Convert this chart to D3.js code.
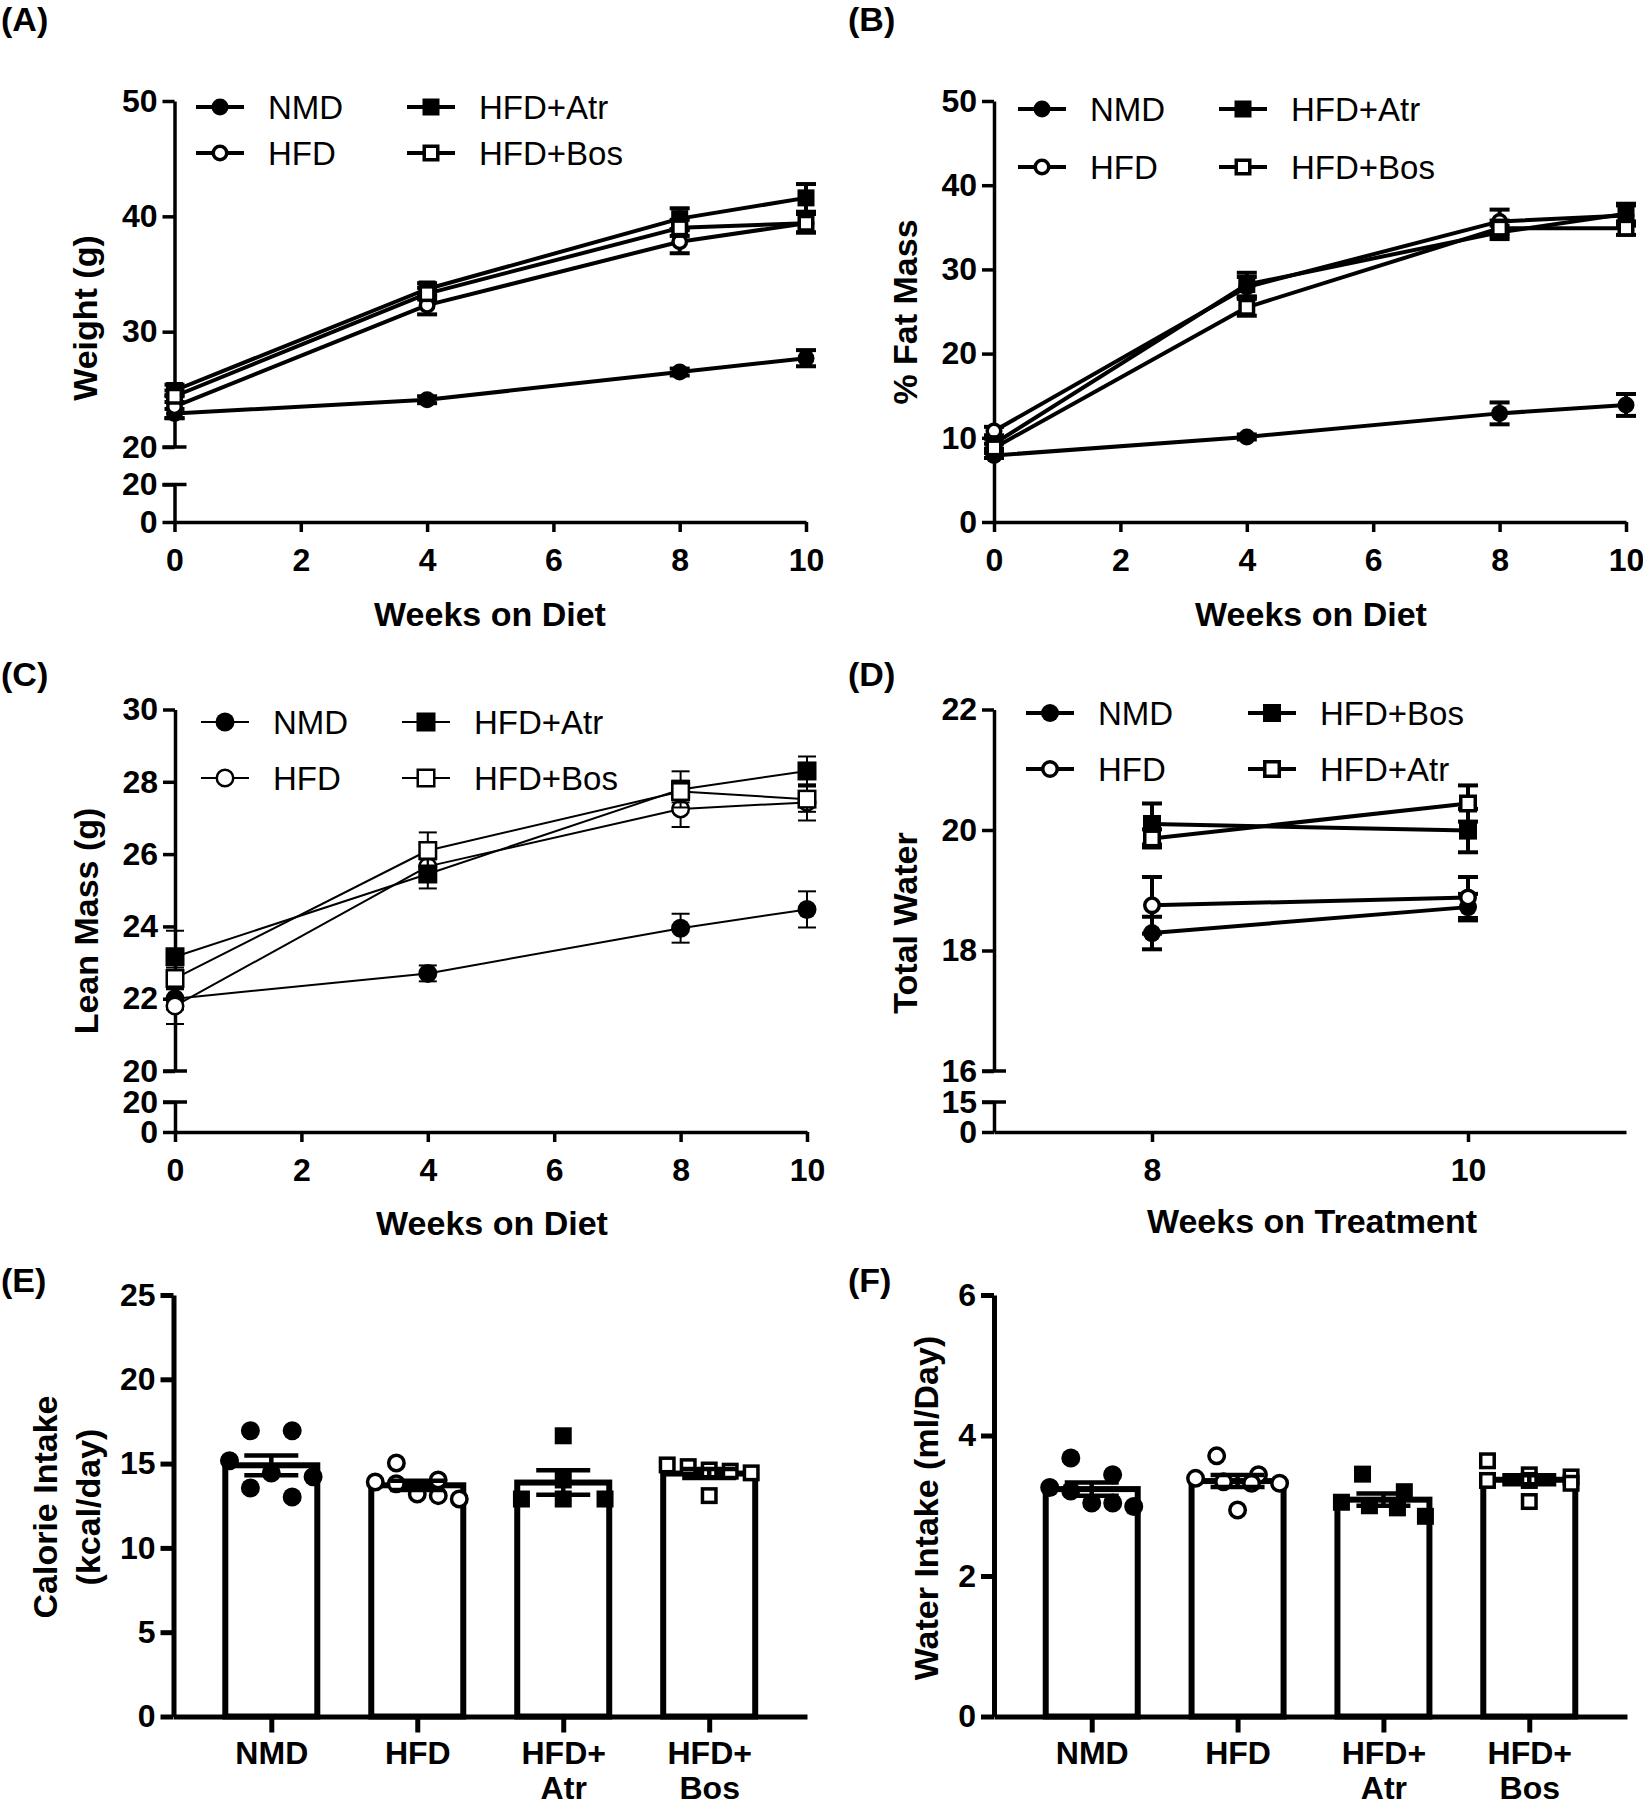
<!DOCTYPE html>
<html><head><meta charset="utf-8">
<script src="https://cdn.jsdelivr.net/npm/d3@7"></script>
<style>body{margin:0;background:#fff}</style>
</head><body><svg id="c" width="1643" height="1800" xmlns="http://www.w3.org/2000/svg"></svg>
<script>
const FONT = '"Liberation Sans", Arial, Helvetica, sans-serif';

// ---------------- data ----------------
const groups = ["NMD", "HFD", "HFD+Atr", "HFD+Bos"];
const weeksDiet = [0, 4, 8, 10];
const weeksTreatment = [8, 10];

// (A) Weight (g), mean and SEM
const weightNMD = [22.9, 24.1, 26.5, 27.7];
const weightNMDSem = [0.4, 0.3, 0.3, 0.7];
const weightHFD = [23.5, 32.3, 37.8, 39.4];
const weightHFDSem = [1.0, 0.8, 1.0, 0.8];
const weightAtr = [24.9, 33.7, 39.8, 41.6];
const weightAtrSem = [0.5, 0.5, 0.9, 1.2];
const weightBos = [24.4, 33.3, 39.0, 39.4];
const weightBosSem = [0.5, 0.5, 0.7, 0.8];

// (B) % Fat Mass
const fatNMD = [7.9, 10.1, 12.9, 13.9];
const fatNMDSem = [0.3, 0.3, 1.3, 1.3];
const fatHFD = [10.8, 27.9, 35.7, 36.4];
const fatHFDSem = [0.5, 1.2, 1.4, 1.2];
const fatAtr = [9.3, 28.2, 34.4, 36.6];
const fatAtrSem = [0.6, 1.4, 0.8, 1.2];
const fatBos = [8.8, 25.5, 34.9, 34.9];
const fatBosSem = [0.5, 1.0, 0.9, 0.8];

// (C) Lean Mass (g)
const leanNMD = [22.0, 22.7, 23.95, 24.47];
const leanNMDSem = [0.3, 0.22, 0.4, 0.5];
const leanHFD = [21.8, 25.66, 27.25, 27.43];
const leanHFDSem = [0.5, 0.3, 0.5, 0.5];
const leanAtr = [23.16, 25.45, 27.79, 28.3];
const leanAtrSem = [0.72, 0.4, 0.5, 0.4];
const leanBos = [22.56, 26.1, 27.73, 27.52];
const leanBosSem = [0.3, 0.5, 0.3, 0.35];

// (D) Total Water
const totalWaterNMD = [18.29, 18.72];
const totalWaterNMDSem = [0.27, 0.22];
const totalWaterHFD = [18.75, 18.88];
const totalWaterHFDSem = [0.47, 0.34];
const totalWaterBos = [20.1, 19.99];
const totalWaterBosSem = [0.34, 0.36];
const totalWaterAtr = [19.86, 20.44];
const totalWaterAtrSem = [0.15, 0.3];

// (E) Calorie intake (kcal/day), individual animals
const calorieNMD = [16.95, 16.95, 15.17, 14.44, 14.22, 13.55, 13.02];
const calorieHFD = [15.04, 14.03, 13.91, 13.81, 13.2, 13.1, 12.9];
const calorieAtr = [16.65, 14.03, 12.9, 12.9, 12.9];
const calorieBos = [14.92, 14.82, 14.62, 14.55, 14.45, 13.1];

// (F) Water intake (ml/Day), individual animals
const waterIntakeNMD = [3.68, 3.44, 3.26, 3.21, 3.04, 3.04, 2.99];
const waterIntakeHFD = [3.71, 3.44, 3.39, 3.34, 3.32, 3.32, 2.94];
const waterIntakeAtr = [3.45, 3.2, 3.05, 3.0, 2.97, 2.85];
const waterIntakeBos = [3.64, 3.44, 3.41, 3.36, 3.36, 3.32, 3.06];

// tick labels
const ticksDiet = [0, 2, 4, 6, 8, 10];
const ticksTreatment = [8, 10];
const ticksAUpper = [20, 30, 40, 50];
const ticksALower = [0, 20];
const ticksB = [0, 10, 20, 30, 40, 50];
const ticksCUpper = [20, 22, 24, 26, 28, 30];
const ticksCLower = [0, 20];
const ticksDUpper = [16, 18, 20, 22];
const ticksDLower = [0, 15];
const ticksE = [0, 5, 10, 15, 20, 25];
const ticksF = [0, 2, 4, 6];
const barLabels = [["NMD"], ["HFD"], ["HFD+", "Atr"], ["HFD+", "Bos"]];

// ---------------- drawing ----------------
const svg = d3.select("#c");
const fmt = d3.format("d");
const TICK_FS = 32, LEGEND_FS = 33, TITLE_FS = 34, LABEL_FS = 34;

function styleAxis(sel, w, fs) {
  sel.attr("font-family", FONT).attr("font-size", fs).attr("font-weight", "bold");
  sel.select(".domain").attr("stroke", "#000").attr("stroke-width", w);
  sel.selectAll(".tick line").attr("stroke", "#000").attr("stroke-width", w);
  sel.selectAll(".tick text").attr("fill", "#000");
}

function drawMarker(g, type, cx, cy, size, sw) {
  const filled = type.startsWith("filled");
  const circle = type.endsWith("Circle");
  const r = filled ? size / 2 : size / 2 - sw / 2;
  if (circle) {
    g.append("circle").attr("cx", cx).attr("cy", cy).attr("r", r)
      .attr("fill", filled ? "#000" : "#fff").attr("stroke", filled ? "none" : "#000").attr("stroke-width", sw);
  } else {
    g.append("rect").attr("x", cx - r).attr("y", cy - r).attr("width", 2 * r).attr("height", 2 * r)
      .attr("fill", filled ? "#000" : "#fff").attr("stroke", filled ? "none" : "#000").attr("stroke-width", sw);
  }
}

function text(g, str, x, y, size, weight, anchor, rotate) {
  const t = g.append("text").attr("font-family", FONT).attr("font-size", size)
    .attr("font-weight", weight).attr("fill", "#000").attr("text-anchor", anchor || "start").text(str);
  if (rotate) t.attr("transform", `translate(${x},${y}) rotate(-90)`);
  else t.attr("x", x).attr("y", y);
  return t;
}

function linePanel(p) {
  const g = svg.append("g");
  const x = d3.scaleLinear().domain(p.xDomain).range(p.xRange);
  const ax = p.xRange[0];
  const yU = d3.scaleLinear().domain(p.upper.domain).range(p.upper.range);
  const aU = g.append("g").attr("transform", `translate(${ax},0)`)
    .call(d3.axisLeft(yU).tickValues(p.upper.ticks).tickSize(12).tickSizeOuter(0).tickPadding(5).tickFormat(fmt));
  styleAxis(aU, p.axisW, TICK_FS);
  let xAxisY = yU.range()[0];
  if (p.lower) {
    const yL = d3.scaleLinear().domain(p.lower.domain).range(p.lower.range);
    const aL = g.append("g").attr("transform", `translate(${ax},0)`)
      .call(d3.axisLeft(yL).tickValues(p.lower.ticks).tickSize(12).tickSizeOuter(0).tickPadding(5).tickFormat(fmt));
    styleAxis(aL, p.axisW, TICK_FS);
    xAxisY = yL(p.lower.domain[0]);
    [yU(p.upper.domain[0]), yL(p.lower.domain[1])].forEach(yy => {
      g.append("line").attr("x1", ax - 12).attr("x2", ax + 12).attr("y1", yy).attr("y2", yy)
        .attr("stroke", "#000").attr("stroke-width", p.axisW);
    });
  }
  const aX = g.append("g").attr("transform", `translate(0,${xAxisY})`)
    .call(d3.axisBottom(x).tickValues(p.xTicks).tickSize(10).tickSizeOuter(0).tickPadding(16).tickFormat(fmt));
  styleAxis(aX, p.axisW, TICK_FS);

  // series
  const lineGen = d3.line().x(d => d.x).y(d => d.y);
  p.series.forEach(s => {
    const pts = p.xs.map((xv, i) => ({
      x: x(xv), y: yU(s.values[i]),
      lo: yU(s.values[i] - s.sem[i]), hi: yU(s.values[i] + s.sem[i])
    }));
    pts.forEach(d => {
      g.append("line").attr("x1", d.x).attr("x2", d.x).attr("y1", d.lo).attr("y2", d.hi)
        .attr("stroke", "#000").attr("stroke-width", p.lineW);
      [d.lo, d.hi].forEach(yy => g.append("line").attr("x1", d.x - p.capW / 2).attr("x2", d.x + p.capW / 2)
        .attr("y1", yy).attr("y2", yy).attr("stroke", "#000").attr("stroke-width", p.lineW));
    });
    g.append("path").attr("d", lineGen(pts)).attr("fill", "none").attr("stroke", "#000")
      .attr("stroke-width", p.lineW).attr("stroke-linejoin", "round");
    pts.forEach(d => drawMarker(g, s.marker, d.x, d.y, p.markerSize, p.markerSW));
  });

  // legend
  const L = p.legend;
  L.entries.forEach((e, i) => {
    const col = Math.floor(i / 2), row = i % 2;
    const lx = L.x + col * L.colGap, ly = L.y + row * L.rowGap;
    g.append("line").attr("x1", lx).attr("x2", lx + 48).attr("y1", ly).attr("y2", ly)
      .attr("stroke", "#000").attr("stroke-width", p.lineW);
    drawMarker(g, e.marker, lx + 24, ly, p.markerSize, p.markerSW);
    text(g, e.name, lx + 72, ly + 12, LEGEND_FS, "normal");
  });

  text(g, p.yTitle.text, p.yTitle.x, p.yTitle.y, TITLE_FS, "bold", "middle", true);
  text(g, p.xTitle.text, p.xTitle.x, p.xTitle.y, TITLE_FS, "bold", "middle");
  text(g, p.label.text, p.label.x, p.label.y, LABEL_FS, "bold");
}

// place points of a column in rows of similar height, spread across the bar
function swarm(vals, y, diam, halfWidth) {
  const pts = vals.map(v => ({ v, py: y(v) })).sort((a, b) => a.py - b.py);
  const rows = [];
  let cur = null;
  pts.forEach(d => {
    if (cur && d.py - cur[0].py < diam) cur.push(d);
    else { cur = [d]; rows.push(cur); }
  });
  rows.forEach(r => {
    const n = r.length;
    const step = n > 1 ? Math.min(2.2 * diam, (2 * halfWidth) / (n - 1)) : 0;
    r.forEach((d, i) => { d.dx = (i - (n - 1) / 2) * step; });
  });
  return pts;
}

function barPanel(p) {
  const g = svg.append("g");
  const y = d3.scaleLinear().domain(p.yDomain).range(p.yRange);
  const x = d3.scalePoint().domain(groups).range([p.axisX, p.xRight]).padding(0.67);
  const aY = g.append("g").attr("transform", `translate(${p.axisX},0)`)
    .call(d3.axisLeft(y).tickValues(p.yTicks).tickSize(13).tickSizeOuter(0).tickPadding(5).tickFormat(fmt));
  styleAxis(aY, p.axisW, TICK_FS);

  const markers = ["filledCircle", "openCircle", "filledSquare", "openSquare"];
  groups.forEach((grp, i) => {
    const vals = p.points[i];
    const mean = d3.mean(vals);
    const sem = d3.deviation(vals) / Math.sqrt(vals.length);
    const cx = x(grp);
    g.append("rect").attr("x", cx - p.barW / 2).attr("y", y(mean))
      .attr("width", p.barW).attr("height", y(0) - y(mean))
      .attr("fill", "#fff").attr("stroke", "#000").attr("stroke-width", p.barSW);
    swarm(vals, y, 19, 42).forEach(d => drawMarker(g, markers[i], cx + d.dx, d.py, markers[i].endsWith("Square") ? 17 : 19, 3.5));
    const lo = y(mean - sem), hi = y(mean + sem);
    g.append("line").attr("x1", cx).attr("x2", cx).attr("y1", lo).attr("y2", hi)
      .attr("stroke", "#000").attr("stroke-width", 4.5);
    [lo, hi].forEach(yy => g.append("line").attr("x1", cx - 27).attr("x2", cx + 27)
      .attr("y1", yy).attr("y2", yy).attr("stroke", "#000").attr("stroke-width", 4.5));
  });

  const aX = g.append("g").attr("transform", `translate(0,${p.yRange[0]})`)
    .call(d3.axisBottom(x).tickSize(16).tickSizeOuter(0).tickPadding(9).tickFormat(() => ""));
  styleAxis(aX, p.axisW, TICK_FS);
  aX.selectAll(".tick text").each(function (d, i) {
    const t = d3.select(this).attr("dy", null);
    barLabels[i].forEach((ln, j) => t.append("tspan").attr("x", 0).attr("dy", j === 0 ? "0.71em" : "1.08em").text(ln));
  });

  p.yTitle.forEach(t => text(g, t.text, t.x, p.yTitleCY, TITLE_FS, "bold", "middle", true));
  text(g, p.label.text, p.label.x, p.label.y, LABEL_FS, "bold");
}

const legendStd = [
  { name: "NMD", marker: "filledCircle" }, { name: "HFD", marker: "openCircle" },
  { name: "HFD+Atr", marker: "filledSquare" }, { name: "HFD+Bos", marker: "openSquare" }
];

// (A)
linePanel({
  xDomain: [0, 10], xRange: [174.5, 806], xTicks: ticksDiet, xs: weeksDiet,
  upper: { domain: [20, 50], range: [447, 101], ticks: ticksAUpper },
  lower: { domain: [0, 20], range: [522, 484.5], ticks: ticksALower },
  axisW: 3.5, lineW: 4, markerSize: 17, markerSW: 3.5, capW: 20,
  series: [
    { values: weightNMD, sem: weightNMDSem, marker: "filledCircle" },
    { values: weightHFD, sem: weightHFDSem, marker: "openCircle" },
    { values: weightAtr, sem: weightAtrSem, marker: "filledSquare" },
    { values: weightBos, sem: weightBosSem, marker: "openSquare" }
  ],
  legend: { x: 196, y: 107, colGap: 211, rowGap: 46, entries: legendStd },
  yTitle: { text: "Weight (g)", x: 97, y: 318 },
  xTitle: { text: "Weeks on Diet", x: 490, y: 626 },
  label: { text: "(A)", x: 1, y: 31 }
});

// (B)
linePanel({
  xDomain: [0, 10], xRange: [994, 1626], xTicks: ticksDiet, xs: weeksDiet,
  upper: { domain: [0, 50], range: [522, 101], ticks: ticksB },
  axisW: 3.5, lineW: 4, markerSize: 17, markerSW: 3.5, capW: 20,
  series: [
    { values: fatNMD, sem: fatNMDSem, marker: "filledCircle" },
    { values: fatHFD, sem: fatHFDSem, marker: "openCircle" },
    { values: fatAtr, sem: fatAtrSem, marker: "filledSquare" },
    { values: fatBos, sem: fatBosSem, marker: "openSquare" }
  ],
  legend: { x: 1018, y: 109, colGap: 201, rowGap: 58, entries: legendStd },
  yTitle: { text: "% Fat Mass", x: 917, y: 312 },
  xTitle: { text: "Weeks on Diet", x: 1311, y: 626 },
  label: { text: "(B)", x: 848, y: 31 }
});

// (C)
linePanel({
  xDomain: [0, 10], xRange: [175, 807], xTicks: ticksDiet, xs: weeksDiet,
  upper: { domain: [20, 30], range: [1071, 709.5], ticks: ticksCUpper },
  lower: { domain: [0, 20], range: [1132, 1102], ticks: ticksCLower },
  axisW: 3.5, lineW: 2, markerSize: 19, markerSW: 2.5, capW: 18,
  series: [
    { values: leanNMD, sem: leanNMDSem, marker: "filledCircle" },
    { values: leanHFD, sem: leanHFDSem, marker: "openCircle" },
    { values: leanAtr, sem: leanAtrSem, marker: "filledSquare" },
    { values: leanBos, sem: leanBosSem, marker: "openSquare" }
  ],
  legend: { x: 201, y: 722, colGap: 201, rowGap: 56, entries: legendStd },
  yTitle: { text: "Lean Mass (g)", x: 98, y: 921 },
  xTitle: { text: "Weeks on Diet", x: 492, y: 1235 },
  label: { text: "(C)", x: 1, y: 686 }
});

// (D)
linePanel({
  xDomain: [7, 11], xRange: [994, 1626], xTicks: ticksTreatment, xs: weeksTreatment,
  upper: { domain: [16, 22], range: [1071, 709.5], ticks: ticksDUpper },
  lower: { domain: [0, 15], range: [1132, 1102], ticks: ticksDLower },
  axisW: 3.5, lineW: 4, markerSize: 18, markerSW: 3.5, capW: 20,
  series: [
    { values: totalWaterNMD, sem: totalWaterNMDSem, marker: "filledCircle" },
    { values: totalWaterHFD, sem: totalWaterHFDSem, marker: "openCircle" },
    { values: totalWaterBos, sem: totalWaterBosSem, marker: "filledSquare" },
    { values: totalWaterAtr, sem: totalWaterAtrSem, marker: "openSquare" }
  ],
  legend: { x: 1026, y: 713, colGap: 222, rowGap: 56, entries: [
    { name: "NMD", marker: "filledCircle" }, { name: "HFD", marker: "openCircle" },
    { name: "HFD+Bos", marker: "filledSquare" }, { name: "HFD+Atr", marker: "openSquare" }
  ] },
  yTitle: { text: "Total Water", x: 917, y: 923 },
  xTitle: { text: "Weeks on Treatment", x: 1312, y: 1233 },
  label: { text: "(D)", x: 848, y: 686 }
});

// (E)
barPanel({
  points: [calorieNMD, calorieHFD, calorieAtr, calorieBos],
  yDomain: [0, 25], yRange: [1716.5, 1295], yTicks: ticksE,
  axisX: 173.5, xRight: 807, axisW: 5, barW: 92, barSW: 6,
  yTitle: [{ text: "Calorie Intake", x: 57 }, { text: "(kcal/day)", x: 100 }], yTitleCY: 1507,
  label: { text: "(E)", x: 1, y: 1292 }
});

// (F)
barPanel({
  points: [waterIntakeNMD, waterIntakeHFD, waterIntakeAtr, waterIntakeBos],
  yDomain: [0, 6], yRange: [1716.5, 1295], yTicks: ticksF,
  axisX: 994, xRight: 1627, axisW: 5, barW: 92, barSW: 6,
  yTitle: [{ text: "Water Intake (ml/Day)", x: 938 }], yTitleCY: 1508,
  label: { text: "(F)", x: 848, y: 1292 }
});
</script>
</body></html>
